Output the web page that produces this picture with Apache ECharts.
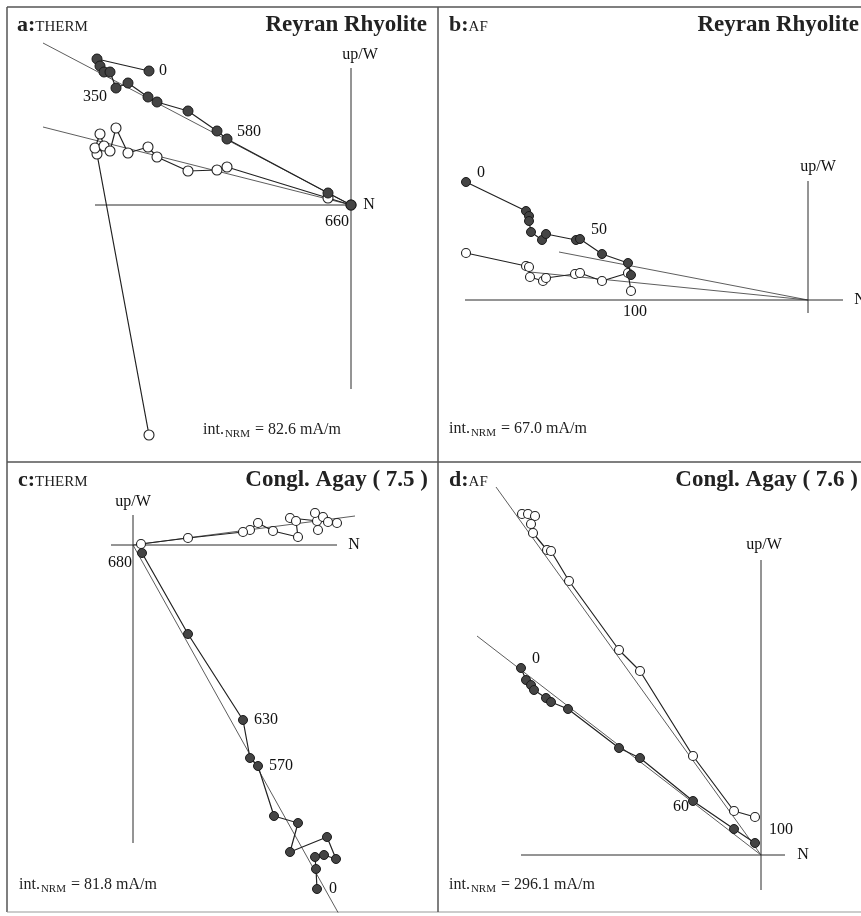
<!DOCTYPE html>
<html><head><meta charset="utf-8">
<script src="https://cdn.jsdelivr.net/npm/echarts@6/dist/echarts.min.js"></script>
<style>html,body{margin:0;padding:0;background:#fff}#c{width:861px;height:916px}</style>
</head><body><div id="c"></div>
<script>
// ---------- Panel a: THERM, Reyran Rhyolite (x = N, y = up/W) ----------
const aFilled = [[-202,134],[-254,146],[-251,139],[-247,133],[-241,133],[-235,117],[-223,122],[-203,108],[-194,103],[-163,94],[-134,74],[-124,66],[-23,12],[0,0]];
const aOpen   = [[-202,-230],[-254,51],[-256,57],[-251,71],[-247,59],[-241,54],[-235,77],[-223,52],[-203,58],[-194,48],[-163,34],[-134,35],[-124,38],[-23,7],[0,0]];
const aFitFilled = [[-308,162],[0,0]];
const aFitOpen   = [[-308,78],[0,0]];
const aAxisH = [-256,2];
const aAxisV = [-184,137];
const aLabels = [['0',-188,134],['350',-256,108],['580',-102,73],['660',-14,-17],['N',18,0],['up/W',9,150]];

// ---------- Panel b: AF, Reyran Rhyolite ----------
const bFilled = [[-342,118],[-282,89],[-279,84],[-279,79],[-277,68],[-266,60],[-262,66],[-232,60],[-228,61],[-206,46],[-180,37],[-177,25]];
const bOpen   = [[-342,47],[-282,34],[-279,33],[-278,23],[-265,19],[-262,22],[-233,26],[-228,27],[-206,19],[-180,27],[-177,9]];
const bFitFilled = [[-249,48],[0,0]];
const bFitOpen   = [[-278,28],[0,0]];
const bAxisH = [-343,35];
const bAxisV = [-13,119];
const bLabels = [['0',-327,127],['50',-209,70],['100',-173,-12],['N',52,0],['up/W',10,133]];

// ---------- Panel c: THERM, Congl. Agay (7.5) ----------
const cFilled = [[184,-344],[183,-324],[182,-312],[191,-310],[203,-314],[194,-292],[157,-307],[165,-278],[141,-271],[125,-221],[117,-213],[110,-175],[55,-89],[9,-8]];
const cOpen   = [[185,15],[184,24],[182,32],[190,28],[204,22],[195,23],[157,27],[163,24],[165,8],[140,14],[125,22],[117,15],[110,13],[55,7],[8,1]];
const cFitFilled = [[0,0],[207,-371]];
const cFitOpen   = [[0,0],[222,29]];
const cAxisH = [-22,204];
const cAxisV = [-298,30];
const cLabels = [['up/W',0,43],['N',221,0],['680',-13,-18],['630',133,-175],['570',148,-221],['0',200,-344]];

// ---------- Panel d: AF, Congl. Agay (7.6) ----------
const dFilled = [[-240,187],[-235,175],[-230,170],[-227,165],[-215,157],[-210,153],[-193,146],[-142,107],[-121,97],[-68,54],[-27,26],[-6,12]];
const dOpen   = [[-239,341],[-233,341],[-226,339],[-230,331],[-228,322],[-214,305],[-210,304],[-192,274],[-142,205],[-121,184],[-68,99],[-27,44],[-6,38]];
const dFitFilled = [[-284,219],[0,0]];
const dFitOpen   = [[-265,368],[0,0]];
const dAxisH = [-240,24];
const dAxisV = [-35,295];
const dLabels = [['up/W',3,310],['N',42,0],['0',-225,196],['60',-80,48],['100',20,25]];

// ---------- Panel texts ----------
const panelTags   = [['a:','THERM'],['b:','AF'],['c:','THERM'],['d:','AF']];
const panelTitles = ['Reyran Rhyolite','Reyran Rhyolite','Congl. Agay ( 7.5 )','Congl. Agay ( 7.6 )'];
const intensities = ['82.6','67.0','81.8','296.1'];

const FONT = '"Liberation Serif", "DejaVu Serif", serif';
const INK = '#222';

const panels = [
  {grid:{left:7,top:7,width:431,height:455}, x:[-344,87], y:[-257,198], f:aFilled,o:aOpen,ff:aFitFilled,fo:aFitOpen,h:aAxisH,v:aAxisV,l:aLabels,sym:10},
  {grid:{left:438,top:7,width:423,height:455}, x:[-370,53], y:[-162,293], f:bFilled,o:bOpen,ff:bFitFilled,fo:bFitOpen,h:bAxisH,v:bAxisV,l:bLabels,sym:9},
  {grid:{left:7,top:462,width:431,height:450}, x:[-126,305], y:[-367,83], f:cFilled,o:cOpen,ff:cFitFilled,fo:cFitOpen,h:cAxisH,v:cAxisV,l:cLabels,sym:9},
  {grid:{left:438,top:462,width:423,height:450}, x:[-323,100], y:[-57,393], f:dFilled,o:dOpen,ff:dFitFilled,fo:dFitOpen,h:dAxisH,v:dAxisV,l:dLabels,sym:9}
];

const grid=[], xAxis=[], yAxis=[], series=[];
panels.forEach((p,i)=>{
  grid.push(Object.assign({containLabel:false}, p.grid));
  xAxis.push({type:'value',gridIndex:i,min:p.x[0],max:p.x[1],show:false});
  yAxis.push({type:'value',gridIndex:i,min:p.y[0],max:p.y[1],show:false});
  const base = {xAxisIndex:i,yAxisIndex:i,animation:false,silent:true};
  // axes cross
  series.push(Object.assign({type:'line',symbol:'none',z:1,lineStyle:{color:'#2a2a2a',width:1},
    data:[[p.h[0],0],[p.h[1],0]]},base));
  series.push(Object.assign({type:'line',symbol:'none',z:1,lineStyle:{color:'#2a2a2a',width:1},
    data:[[0,p.v[0]],[0,p.v[1]]]},base));
  // fit lines
  series.push(Object.assign({type:'line',symbol:'none',z:2,lineStyle:{color:'#333',width:0.8},data:p.ff},base));
  series.push(Object.assign({type:'line',symbol:'none',z:2,lineStyle:{color:'#333',width:0.8},data:p.fo},base));
  // open (vertical projection)
  series.push(Object.assign({type:'line',z:3,symbol:'circle',symbolSize:p.sym,showAllSymbol:true,
    lineStyle:{color:'#222',width:1.2},itemStyle:{color:'#fff',borderColor:'#222',borderWidth:1.1},data:p.o},base));
  // filled (horizontal projection)
  series.push(Object.assign({type:'line',z:4,symbol:'circle',symbolSize:p.sym,showAllSymbol:true,
    lineStyle:{color:'#222',width:1.2},itemStyle:{color:'#444',borderColor:'#1a1a1a',borderWidth:1},data:p.f},base));
  // labels
  series.push(Object.assign({type:'scatter',z:5,symbolSize:1,itemStyle:{color:'#fff',opacity:1},
    label:{show:true,position:'inside',formatter:'{b}',color:'#111',opacity:1,fontFamily:FONT,fontSize:16,fontWeight:'normal',textBorderWidth:0},
    data:p.l.map(t=>({name:t[0],value:[t[1],t[2]]}))},base));
});

const tagPos = [{left:17,top:14},{left:449,top:14},{left:18,top:469},{left:449,top:469}];
const titlePos = [{right:434,top:14},{right:2,top:14},{right:433,top:469},{right:3,top:469}];
const intPos = [{left:203,top:422},{left:449,top:421},{left:19,top:877},{left:449,top:877}];

const title=[];
panels.forEach((p,i)=>{
  title.push(Object.assign({padding:0,text:'{b|'+panelTags[i][0]+'}{s|'+panelTags[i][1]+'}',
    textStyle:{rich:{b:{fontFamily:FONT,fontWeight:'bold',fontSize:22,color:INK,verticalAlign:'bottom',lineHeight:22},
                     s:{fontFamily:FONT,fontWeight:'normal',fontSize:15,color:INK,verticalAlign:'bottom',lineHeight:22,padding:[0,0,1,0]}}}},tagPos[i]));
  title.push(Object.assign({padding:0,text:panelTitles[i],
    textStyle:{fontFamily:FONT,fontWeight:'bold',fontSize:23,color:INK}},titlePos[i]));
  title.push(Object.assign({padding:0,text:'{t|int.}{s|NRM}{t| = '+intensities[i]+' mA/m}',
    textStyle:{rich:{t:{fontFamily:FONT,fontWeight:'normal',fontSize:16,color:INK,verticalAlign:'top',lineHeight:18},
                     s:{fontFamily:FONT,fontWeight:'normal',fontSize:11,color:INK,verticalAlign:'bottom',lineHeight:13,padding:[9,1,0,1]}}}},intPos[i]));
});

const frame = {type:'group',silent:true,children:[
  {type:'line',shape:{x1:7,y1:7,x2:861,y2:7},style:{stroke:'#555',lineWidth:1.5}},
  {type:'line',shape:{x1:7,y1:7,x2:7,y2:912},style:{stroke:'#555',lineWidth:1.5}},
  {type:'line',shape:{x1:7,y1:912,x2:861,y2:912},style:{stroke:'#999',lineWidth:1}},
  {type:'line',shape:{x1:438,y1:7,x2:438,y2:912},style:{stroke:'#555',lineWidth:1.5}},
  {type:'line',shape:{x1:7,y1:462,x2:861,y2:462},style:{stroke:'#555',lineWidth:1.5}}
]};

const chart = echarts.init(document.getElementById('c'),null,{renderer:'canvas'});
chart.setOption({backgroundColor:'#fff',animation:false,title,grid,xAxis,yAxis,series,graphic:[frame]});
</script></body></html>
